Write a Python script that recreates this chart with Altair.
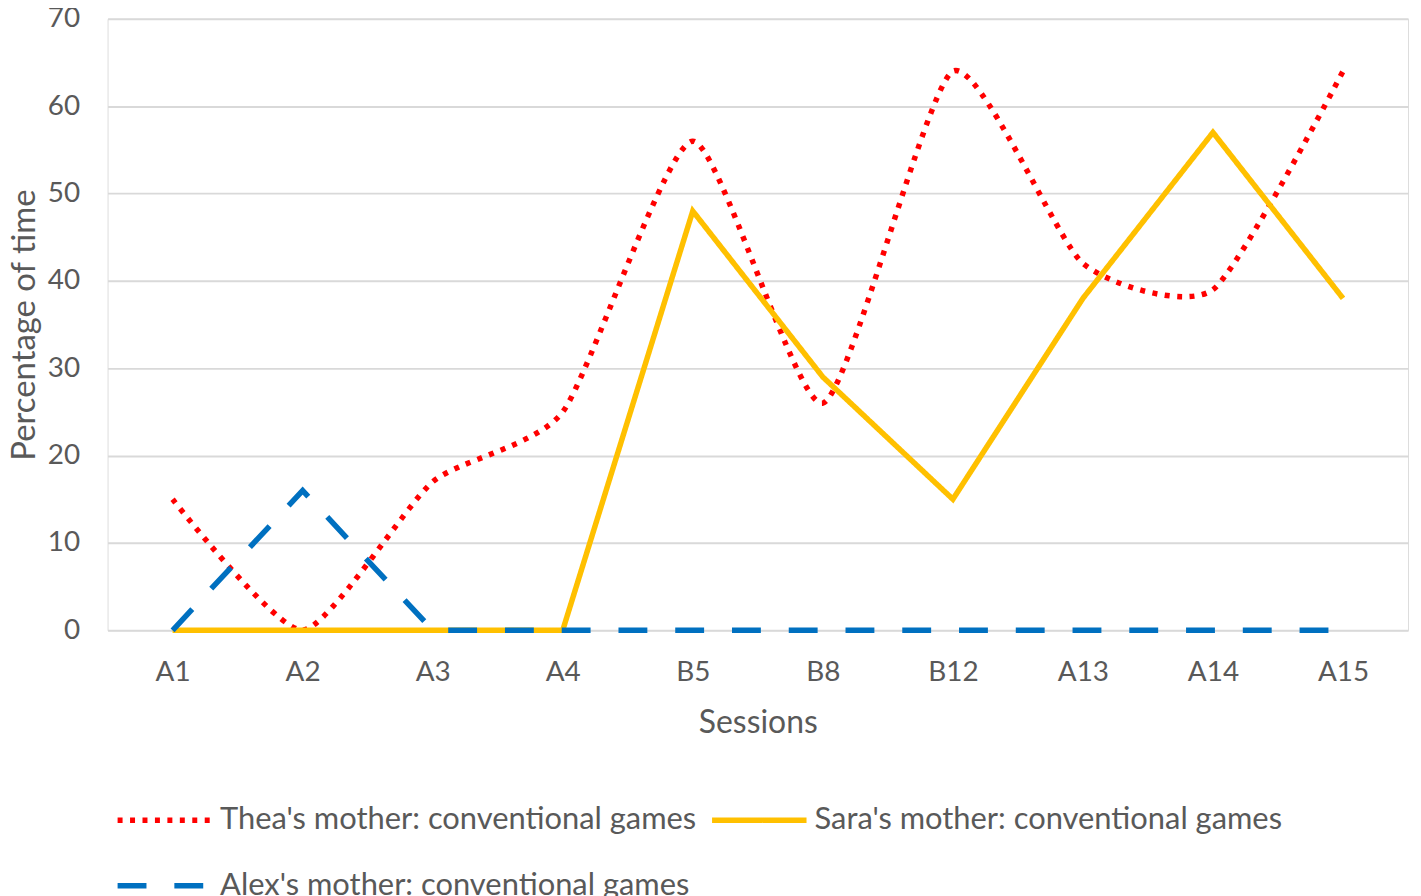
import altair as alt
import pandas as pd

sessions = ["A1", "A2", "A3", "A4", "B5", "B8", "B12", "A13", "A14", "A15"]
thea = [15, 0, 17, 25, 56, 26, 64, 42, 39, 64]
sara = [0, 0, 0, 0, 48, 29, 15, 38, 57, 38]
alex = [0, 16, 0, 0, 0, 0, 0, 0, 0, 0]

series_names = [
    "Thea's mother: conventional games",
    "Sara's mother: conventional games",
    "Alex's mother: conventional games",
]
series_colors = ["#FF0000", "#FFC000", "#0070C0"]
series_dash = [[5, 7.5], [1, 0], [29, 28]]

rows = []
for name, vals in zip(series_names, [thea, sara, alex]):
    for s, v in zip(sessions, vals):
        rows.append({"session": s, "value": v, "series": name})
df = pd.DataFrame(rows)

FONT = "Lato"
GREY = "#595959"

x_enc = alt.X(
    "session:N",
    sort=sessions,
    scale=alt.Scale(paddingOuter=0.5),
    axis=alt.Axis(
        title="Sessions",
        labelAngle=0,
        ticks=False,
        tickSize=0,
        domain=False,
        grid=False,
        labelPadding=28,
        labelFontSize=28,
        labelColor=GREY,
        labelFont=FONT,
        titleFontSize=32,
        titleFontWeight="normal",
        titleColor=GREY,
        titleFont=FONT,
        titlePadding=22,
    ),
)
y_enc = alt.Y(
    "value:Q",
    scale=alt.Scale(domain=[0, 70], nice=False),
    axis=alt.Axis(
        title="Percentage of time",
        values=[0, 10, 20, 30, 40, 50, 60, 70],
        ticks=False,
        tickSize=0,
        domain=False,
        gridColor="#D9D9D9",
        gridWidth=2,
        labelPadding=28,
        labelFontSize=28,
        labelColor=GREY,
        labelFont=FONT,
        titleFontSize=33,
        titleFontWeight="normal",
        titleColor=GREY,
        titleFont=FONT,
        titleX=-66,
    ),
)
color_enc = alt.Color(
    "series:N",
    scale=alt.Scale(domain=series_names, range=series_colors),
    legend=alt.Legend(
        title=None,
        orient="none",
        direction="horizontal",
        legendX=7,
        legendY=754,
        columns=2,
        columnPadding=4,
        rowPadding=-37,
        symbolType="stroke",
        symbolSize=9000,
        symbolStrokeWidth=5.5,
        labelFontSize=31,
        labelFont=FONT,
        labelColor=GREY,
        labelOffset=5,
        labelLimit=700,
    ),
)
dash_enc = alt.StrokeDash(
    "series:N",
    scale=alt.Scale(domain=series_names, range=series_dash),
    legend=None,
)

base = alt.Chart(df).encode(x=x_enc, y=y_enc, color=color_enc, strokeDash=dash_enc)

thea_layer = base.transform_filter(
    alt.datum.series == series_names[0]
).mark_line(strokeWidth=5.5, interpolate="cardinal", tension=0.4)
sara_layer = base.transform_filter(
    alt.datum.series == series_names[1]
).mark_line(strokeWidth=5.5)
alex_layer = base.transform_filter(
    alt.datum.series == series_names[2]
).mark_line(strokeWidth=5.5)

chart = (
    alt.layer(thea_layer, sara_layer, alex_layer)
    .properties(
        width=1306,
        height=614,
        autosize=alt.AutoSizeParams(type="none"),
        padding={"left": 100, "top": 9, "right": 5, "bottom": 275},
    )
    .configure_view(stroke=None)
    .configure(background="white")
)

chart.save("out.html", embed_options={"renderer": "svg", "actions": False})
